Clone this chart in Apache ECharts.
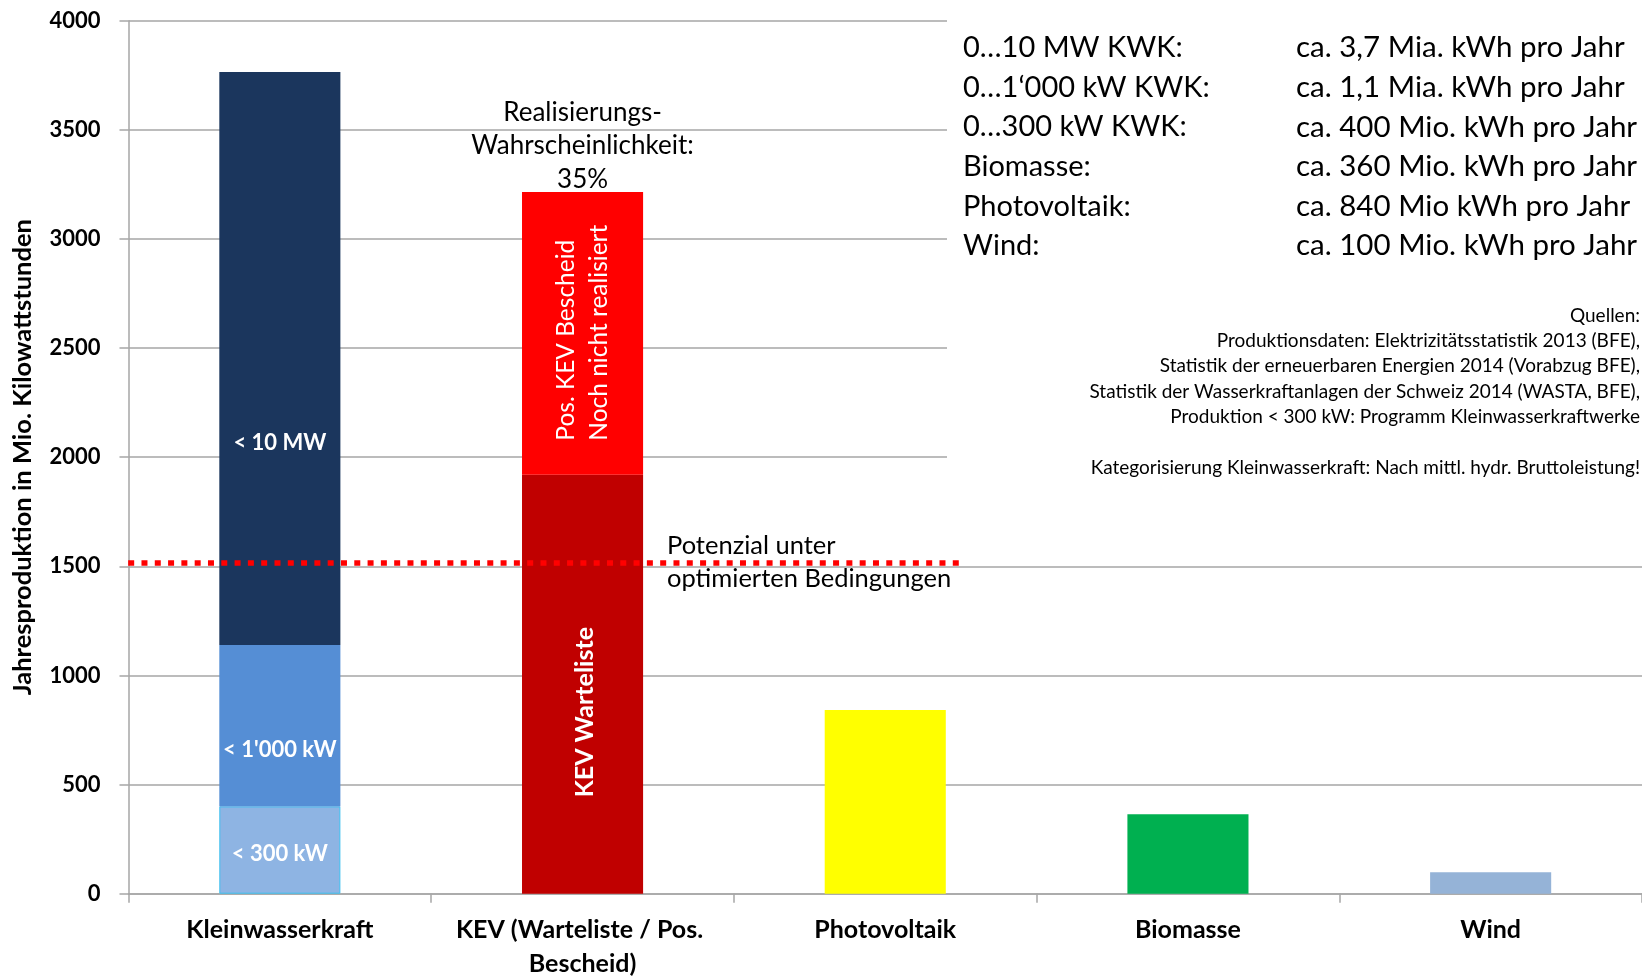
<!DOCTYPE html>
<html>
<head>
<meta charset="utf-8">
<script src="https://cdn.jsdelivr.net/npm/echarts@6/dist/echarts.min.js"></script>
<style>
  html, body { margin: 0; padding: 0; background: #fff; }
  #chart { width: 1642px; height: 977px; }
</style>
</head>
<body>
<div id="chart"></div>
<script>
// Kategorien
const categories = ["Kleinwasserkraft", "KEV (Warteliste / Pos. Bescheid)", "Photovoltaik", "Biomasse", "Wind"];
const yTicks = [0, 500, 1000, 1500, 2000, 2500, 3000, 3500, 4000];

// Kleinwasserkraft, gestapelt: < 300 kW, < 1'000 kW, < 10 MW
const klein300 = [400, "-", "-", "-", "-"];
const klein1000 = [740, "-", "-", "-", "-"];
const klein10MW = [2625, "-", "-", "-", "-"];
// KEV
const kevWarteliste = ["-", 1920, "-", "-", "-"];
const kevPosBescheid = ["-", 1295, "-", "-", "-"];
const kevTotal = 3215;
// übrige
const otherValues = ["-", "-", 842, 364, 98];
const otherColors = ["#ffffff", "#ffffff", "#ffff00", "#00b050", "#95b3d7"];
// Potenzial-Linie
const potenzialValue = 1515;
const potenzialX = [-0.045, 2.75];

// Textbox
const boxLeft = ["0…10 MW KWK:", "0…1‘000 kW KWK:", "0…300 kW KWK:", "Biomasse:", "Photovoltaik:", "Wind:"];
const boxRight = ["ca. 3,7 Mia. kWh pro Jahr", "ca. 1,1 Mia. kWh pro Jahr", "ca. 400 Mio. kWh pro Jahr",
  "ca. 360 Mio. kWh pro Jahr", "ca. 840 Mio kWh pro Jahr", "ca. 100 Mio. kWh pro Jahr"];
const quellen = [
  "Quellen:",
  "Produktionsdaten: Elektrizitätsstatistik 2013 (BFE),",
  "Statistik der erneuerbaren Energien 2014 (Vorabzug BFE),",
  "Statistik der Wasserkraftanlagen der Schweiz 2014 (WASTA, BFE),",
  "Produktion < 300 kW: Programm Kleinwasserkraftwerke",
  "",
  "Kategorisierung Kleinwasserkraft: Nach mittl. hydr. Bruttoleistung!"
];

const FONT = "Lato";
const GRAY = "#a6a6a6";

const chart = echarts.init(document.getElementById("chart"));

function segLabel(text, offsetY) {
  return {
    show: true,
    position: "inside",
    formatter: text,
    color: "#fff",
    fontFamily: FONT,
    fontWeight: "bold",
    fontSize: 22,
    offset: [0, offsetY],
  };
}

chart.setOption({
  animation: false,
  textStyle: { fontFamily: FONT },
  grid: {
    left: 128.5, right: 0, top: 20.7, bottom: 83.3,
    containLabel: false,
    outerBoundsMode: "none",
  },
  xAxis: [
    {
      type: "category",
      data: categories,
      axisLine: { lineStyle: { color: GRAY, width: 1.5 } },
      axisTick: { show: true, interval: 0, length: 9, lineStyle: { color: GRAY, width: 1.5 } },
      axisLabel: {
        interval: 0,
        color: "#000",
        fontFamily: FONT,
        fontWeight: "bold",
        fontSize: 25,
        lineHeight: 34,
        margin: 19,
        width: 290,
        overflow: "break",
      },
    },
    { type: "value", min: 0, max: 5, show: false },
  ],
  yAxis: {
    type: "value",
    min: 0,
    max: 4000,
    interval: 500,
    name: "Jahresproduktion in Mio. Kilowattstunden",
    nameLocation: "middle",
    nameGap: 93,
    nameTextStyle: { color: "#000", fontFamily: FONT, fontWeight: "bold", fontSize: 25.5 },
    axisLine: { show: true, lineStyle: { color: GRAY, width: 1.5 } },
    axisTick: { show: true, length: 9, lineStyle: { color: GRAY, width: 1.5 } },
    axisLabel: {
      color: "#000",
      fontFamily: FONT,
      fontWeight: "bold",
      fontSize: 22,
      margin: 28,
      formatter: (v) => (yTicks.includes(v) ? String(v) : ""),
    },
    splitLine: { lineStyle: { color: GRAY, width: 1.5 } },
  },
  series: [
    {
      name: "< 300 kW",
      type: "bar",
      stack: "total",
      barWidth: "40%",
      data: klein300,
      itemStyle: { color: "#8eb4e3", borderColor: "#3cc0f0", borderWidth: 1 },
      label: segLabel("< 300 kW", 4),
    },
    {
      name: "< 1'000 kW",
      type: "bar",
      stack: "total",
      data: klein1000,
      itemStyle: { color: "#558ed5" },
      label: segLabel("< 1'000 kW", 24),
    },
    {
      name: "< 10 MW",
      type: "bar",
      stack: "total",
      data: klein10MW,
      itemStyle: { color: "#1b365d" },
      label: segLabel("< 10 MW", 84),
    },
    {
      name: "KEV Warteliste",
      type: "bar",
      stack: "total",
      data: kevWarteliste,
      itemStyle: { color: "#c00000" },
      label: {
        show: true,
        position: "inside",
        rotate: 90,
        formatter: "KEV Warteliste",
        color: "#fff",
        fontFamily: FONT,
        fontWeight: "bold",
        fontSize: 25,
        // Offset im gedrehten Textsystem: x = nach oben, y = nach rechts
        offset: [-28, 2],
      },
    },
    {
      name: "Pos. KEV Bescheid",
      type: "bar",
      stack: "total",
      data: kevPosBescheid,
      itemStyle: { color: "#ff0000" },
      label: {
        show: true,
        position: "insideBottom",
        distance: 34,
        rotate: 90,
        align: "left",
        verticalAlign: "middle",
        formatter: "Pos. KEV Bescheid\nNoch nicht realisiert",
        color: "#fff",
        fontFamily: FONT,
        fontSize: 24.5,
        lineHeight: 33,
      },
      markPoint: {
        symbol: "rect",
        symbolSize: 0,
        data: [{ coord: [1, kevTotal] }],
        label: {
          show: true,
          position: "top",
          distance: -4,
          formatter: "Realisierungs-\nWahrscheinlichkeit:\n35%",
          color: "#000",
          fontFamily: FONT,
          fontSize: 26,
          lineHeight: 33.5,
          align: "center",
        },
      },
    },
    {
      name: "Übrige",
      type: "bar",
      stack: "total",
      data: otherValues.map((v, i) => ({ value: v, itemStyle: { color: otherColors[i] } })),
    },
    {
      name: "Potenzial",
      type: "line",
      xAxisIndex: 1,
      clip: false,
      symbol: "none",
      z: 5,
      data: potenzialX.map((x) => [x, potenzialValue]),
      lineStyle: { color: "#ff0000", width: 5.5, type: [6, 7.3], cap: "butt" },
    },
  ],
  graphic: [
    { type: "rect", z: 10, shape: { x: 947, y: 0, width: 695, height: 500 }, style: { fill: "#fff" } },
    {
      type: "text", z: 11, x: 963, y: 28,
      style: { text: boxLeft.join("\n"), font: "29px " + FONT, lineHeight: 39.6, fill: "#000" },
    },
    {
      type: "text", z: 11, x: 1296, y: 28,
      style: { text: boxRight.join("\n"), font: "29.5px " + FONT, lineHeight: 39.6, fill: "#000" },
    },
    {
      type: "text", z: 11, x: 1640, y: 303,
      style: { text: quellen.join("\n"), font: "19px " + FONT, lineHeight: 25.3, fill: "#000", align: "right" },
    },
    {
      type: "text", z: 11, x: 667, y: 529,
      style: { text: "Potenzial unter\noptimierten Bedingungen", font: "25.5px " + FONT, lineHeight: 33.4, fill: "#000" },
    },
  ],
});
</script>
</body>
</html>
